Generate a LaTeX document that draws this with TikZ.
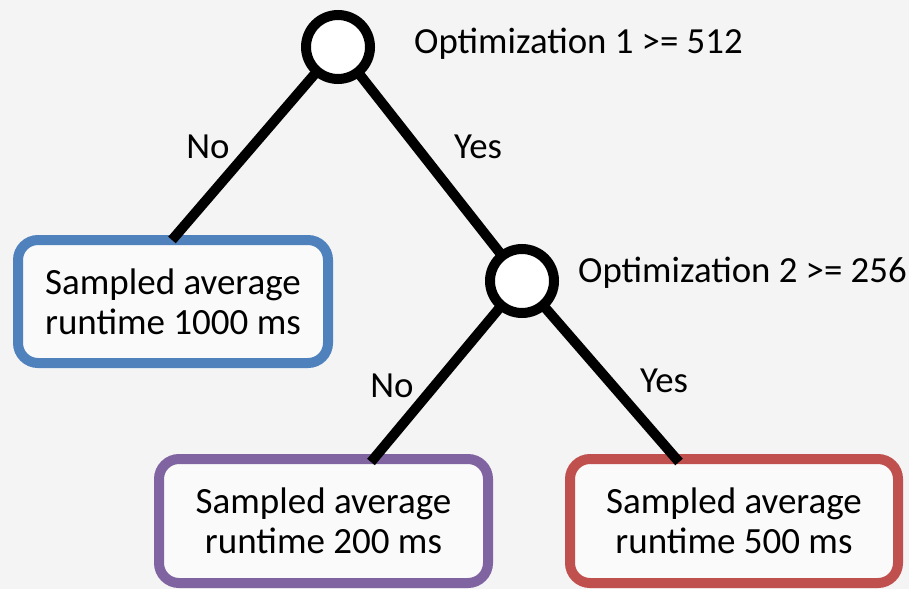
\documentclass[tikz,border=0pt]{standalone}
\usepackage{fontspec}
\setmainfont{Carlito}
\definecolor{bg}{HTML}{F4F4F4}
\definecolor{boxfill}{HTML}{FAFAFA}
\definecolor{cblue}{HTML}{4F81BD}
\definecolor{cpurple}{HTML}{8064A2}
\definecolor{cred}{HTML}{C0504D}
\begin{document}
\begin{tikzpicture}[x=1pt,y=-1pt,
  leaf/.style={draw, line width=10pt, rounded corners=20pt, fill=boxfill,
    align=center, inner sep=0pt, font=\fontsize{37}{40}\selectfont},
  decision/.style={circle, draw, line width=10pt, fill=white, minimum size=64pt, inner sep=0pt},
  edge/.style={line width=10pt},
  lbl/.style={font=\fontsize{36.8}{40}\selectfont, inner sep=0pt}]
\fill[bg] (0,0) rectangle (909,589);
\useasboundingbox (0,0) rectangle (909,589);
% leaves
\node[leaf, draw=cblue, minimum width=310pt, minimum height=123pt] (l1) at (173,301.5) {Sampled average\\runtime 1000 ms};
\node[leaf, draw=cpurple, minimum width=329pt, minimum height=124pt] (l2) at (323.5,521) {Sampled average\\runtime 200 ms};
\node[leaf, draw=cred, minimum width=328pt, minimum height=124pt] (l3) at (734,521) {Sampled average\\runtime 500 ms};
% decision points
\coordinate (p1) at (338,47);
\coordinate (p2) at (522,281);
\coordinate (e1) at (172,240);
\coordinate (e2) at (371,462);
\coordinate (e3) at (679,462);
\draw[edge] (p1) -- (e1);
\draw[edge] (p1) -- (p2);
\draw[edge] (p2) -- (e2);
\draw[edge] (p2) -- (e3);
\node[decision] (c1) at (p1) {};
\node[decision] (c2) at (p2) {};
% labels
\node[lbl, anchor=west] (q1) at (414,44) {Optimization 1 >= 512};
\node[lbl, anchor=west] (q2) at (578,273) {Optimization 2 >= 256};
\node[lbl] (n1) at (208,147) {No};
\node[lbl] (y1) at (478,147) {Yes};
\node[lbl] (n2) at (392,386) {No};
\node[lbl] (y2) at (664,381) {Yes};
\end{tikzpicture}
\end{document}
